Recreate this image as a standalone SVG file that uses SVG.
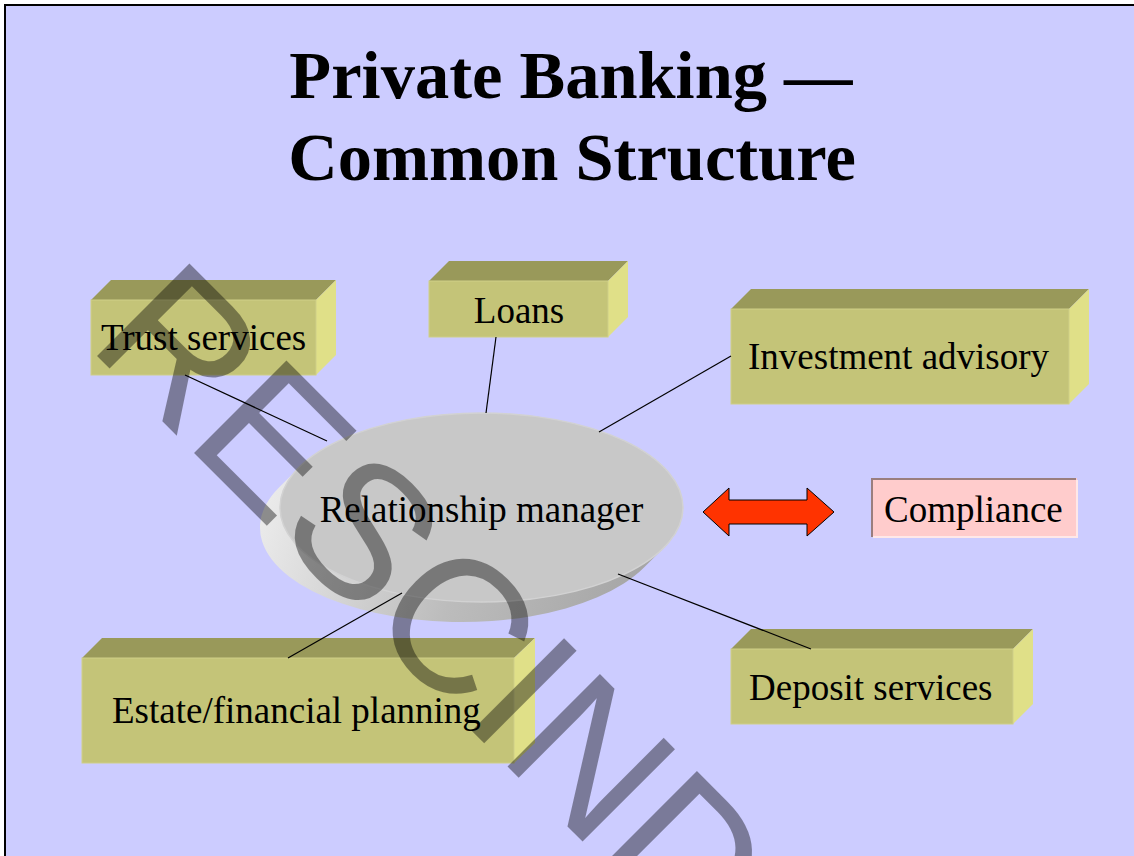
<svg xmlns="http://www.w3.org/2000/svg" width="1134" height="856" viewBox="0 0 1134 856">
<defs>
<style>
.front{fill:#C4C478;stroke:#CFCF88;stroke-width:1}
.top{fill:#99995A}
.side{fill:#E0E088}
.lbl{font-family:"Liberation Serif","Times New Roman",serif;font-size:37px;fill:#000}
.title{font-family:"Liberation Serif","Times New Roman",serif;font-size:68.5px;font-weight:bold;fill:#000;text-anchor:middle}
.conn line{stroke:#000;stroke-width:1.2}
</style>
<linearGradient id="discSide" gradientUnits="userSpaceOnUse" x1="260" y1="470" x2="680" y2="610">
<stop offset="0" stop-color="#EEEEEE"/>
<stop offset="0.5" stop-color="#BCBCBC"/>
<stop offset="1" stop-color="#A0A0A0"/>
</linearGradient>
</defs>
<rect x="0" y="0" width="1134" height="856" fill="#FFFFFF"/>
<rect x="5" y="5" width="1200" height="1000" fill="#CCCCFF" stroke="#000" stroke-width="2"/>

<g id="title">
<text class="title" x="571" y="98">Private Banking —</text>
<text class="title" x="572" y="180">Common Structure</text>
</g>

<g id="trust-services">
<polygon class="top" points="91,300 111,280 336,280 316,300"/>
<polygon class="side" points="316,300 336,280 336,355 316,375"/>
<rect class="front" x="91" y="300" width="225" height="75"/>
<text class="lbl" x="101" y="350">Trust services</text>
</g>

<g id="loans">
<polygon class="top" points="429,281 449,261 628,261 608,281"/>
<polygon class="side" points="608,281 628,261 628,317 608,337"/>
<rect class="front" x="429" y="281" width="179" height="56"/>
<text class="lbl" x="519" y="323" text-anchor="middle">Loans</text>
</g>

<g id="investment-advisory">
<polygon class="top" points="731,309 751,289 1089,289 1069,309"/>
<polygon class="side" points="1069,309 1089,289 1089,384 1069,404"/>
<rect class="front" x="731" y="309" width="338" height="95"/>
<text class="lbl" x="748" y="369">Investment advisory</text>
</g>

<g id="estate-planning">
<polygon class="top" points="82,658 102,638 535,638 514,658"/>
<polygon class="side" points="514,658 535,638 535,743 514,763"/>
<rect class="front" x="82" y="658" width="432" height="105"/>
<text class="lbl" x="112" y="723">Estate/financial planning</text>
</g>

<g id="deposit-services">
<polygon class="top" points="731,649 751,629 1033,629 1013,649"/>
<polygon class="side" points="1013,649 1033,629 1033,704 1013,724"/>
<rect class="front" x="731" y="649" width="282" height="75"/>
<text class="lbl" x="749" y="700">Deposit services</text>
</g>

<g id="relationship-manager">
<path d="M299,467.4 L279,487.4 A201.5 94.5 0 0 0 644,567.6 L664,547.6 A201.5 94.5 0 0 1 299,467.4 Z" fill="url(#discSide)"/>
<ellipse cx="481.5" cy="507.5" rx="201.5" ry="94.5" fill="#C8C8C8" stroke="#D2D2D2" stroke-width="1.5"/>
<text class="lbl" x="481.5" y="522" text-anchor="middle">Relationship manager</text>
</g>

<g id="connectors" class="conn">
<line x1="185" y1="375" x2="327" y2="441"/>
<line x1="496" y1="337" x2="486" y2="413"/>
<line x1="731" y1="356" x2="599" y2="432"/>
<line x1="618" y1="574" x2="811" y2="649"/>
<line x1="402" y1="593" x2="288" y2="658"/>
</g>

<g id="double-arrow">
<polygon points="703,512 729,488 729,500 807,500 807,488 834,512 807,536 807,524 729,524 729,536" fill="#FF3300" stroke="#000" stroke-width="1"/>
</g>

<g id="compliance">
<rect x="871" y="478" width="206" height="59" fill="#FFCCCC"/>
<polyline points="872,537 872,479 1076,479" fill="none" stroke="#9A7E7E" stroke-width="2"/>
<polyline points="873,537 1077,537 1077,480" fill="none" stroke="#FFE8E8" stroke-width="2"/>
<text class="lbl" x="884" y="522">Compliance</text>
</g>

<g id="watermark">
<text x="86" y="345" transform="rotate(45 86 345)" font-family="'Liberation Sans',Arial,sans-serif" font-size="190" fill="#000" fill-opacity="0.4">RESCINDED</text>
</g>
</svg>
